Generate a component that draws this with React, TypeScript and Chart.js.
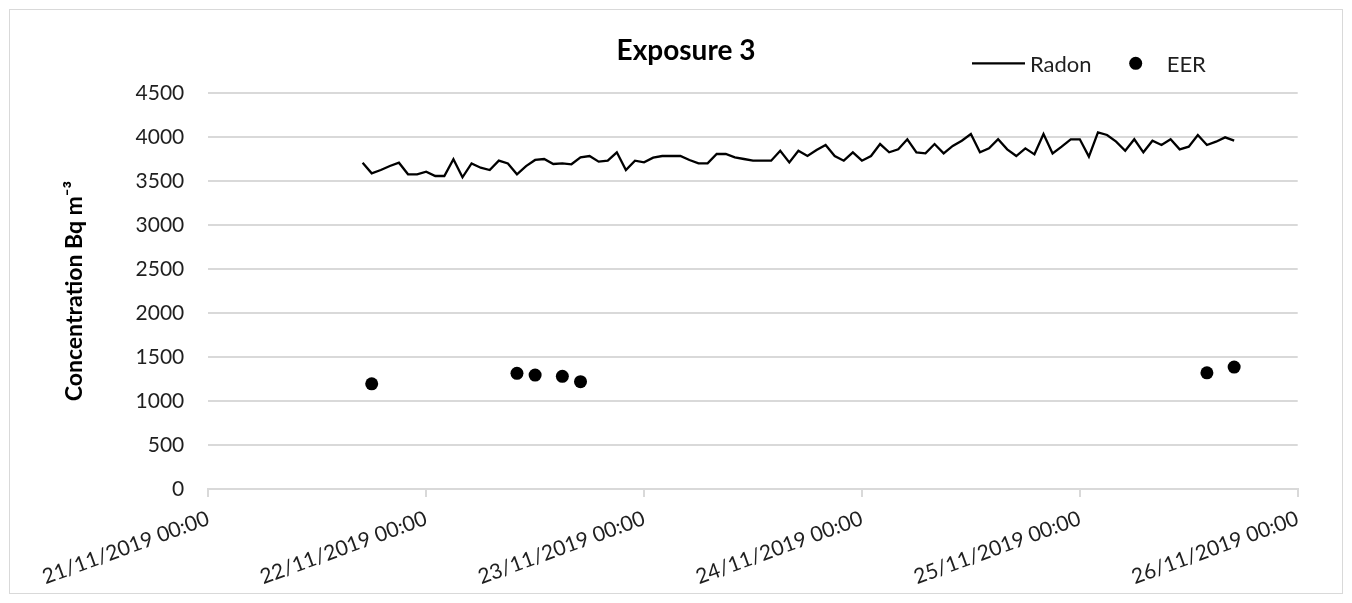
import React, { useEffect, useRef } from 'react';
import { Chart, registerables } from 'chart.js';

Chart.register(...registerables);

const chartTitle = 'Exposure 3';
const yAxisTitle = 'Concentration Bq m⁻³';
const tickLabels = [
  '21/11/2019 00:00',
  '22/11/2019 00:00',
  '23/11/2019 00:00',
  '24/11/2019 00:00',
  '25/11/2019 00:00',
  '26/11/2019 00:00',
];
const seriesNames = ['Radon', 'EER'];

// Radon: hourly readings, first one at 21/11/2019 17:00 (hours counted from 21/11 00:00)
const radonStartHour = 17;
const radonValues = [
  3708, 3587, 3625, 3670, 3708, 3576, 3576, 3606, 3557, 3557, 3747, 3542, 3700,
  3651, 3625, 3731, 3700, 3576, 3670, 3739, 3750, 3693, 3700, 3690, 3769,
  3784, 3720, 3731, 3826, 3625, 3731, 3712, 3765, 3784, 3784, 3784, 3739,
  3700, 3700, 3807, 3807, 3769, 3750, 3731, 3731, 3731, 3844, 3712, 3844,
  3784, 3852, 3909, 3784, 3731, 3826, 3731, 3784, 3920, 3826, 3860, 3974,
  3826, 3814, 3920, 3814, 3898, 3958, 4034, 3826, 3871, 3974, 3860, 3784,
  3871, 3803, 4034, 3814, 3890, 3974, 3974, 3777, 4053, 4023, 3947, 3844,
  3974, 3826, 3958, 3909, 3974, 3860, 3890, 4023, 3909, 3947, 3996, 3958,
];

// EER: isolated measurements (hours from 21/11 00:00)
const eerHours = [18, 34, 36, 39, 41, 110, 113];
const eerValues = [1195, 1315, 1295, 1280, 1220, 1320, 1385];

const FONT = 'Lato, "Open Sans", "DejaVu Sans", sans-serif';
const TEXT = '#1f1f1f';
const GRID = '#d9d9d9';

const overlayPlugin = {
  id: 'overlay',
  beforeDraw(chart: any) {
    const { ctx, width, height } = chart;
    ctx.save();
    ctx.fillStyle = '#ffffff';
    ctx.fillRect(0, 0, width, height);
    ctx.strokeStyle = GRID;
    ctx.lineWidth = 1;
    ctx.strokeRect(1.5, 1.5, width - 3, height - 3);
    ctx.restore();
  },
  afterDraw(chart: any) {
    const { ctx } = chart;
    const ds = chart.data.datasets;
    ctx.save();
    // title
    ctx.fillStyle = '#000';
    ctx.font = `bold 28px ${FONT}`;
    ctx.textAlign = 'center';
    ctx.textBaseline = 'alphabetic';
    ctx.fillText(chartTitle, 678, 52);
    // legend
    ctx.font = `22px ${FONT}`;
    ctx.textAlign = 'left';
    ctx.fillStyle = TEXT;
    ctx.strokeStyle = ds[0].borderColor;
    ctx.lineWidth = ds[0].borderWidth;
    ctx.beginPath();
    ctx.moveTo(964, 55.3);
    ctx.lineTo(1017, 55.3);
    ctx.stroke();
    ctx.fillText(ds[0].label, 1022, 64);
    ctx.fillStyle = ds[1].backgroundColor;
    ctx.beginPath();
    ctx.arc(1127.7, 55.3, ds[1].pointRadius, 0, Math.PI * 2);
    ctx.fill();
    ctx.fillStyle = TEXT;
    ctx.fillText(ds[1].label, 1158.7, 64);
    ctx.restore();
  },
};

export default function App() {
  const ref = useRef<HTMLCanvasElement | null>(null);

  useEffect(() => {
    if (!ref.current) return;
    const radonData = radonValues.map((v, i) => ({ x: radonStartHour + i, y: v }));
    const eerData = eerValues.map((v, i) => ({ x: eerHours[i], y: v }));
    const chart = new Chart(ref.current, {
      type: 'line',
      data: {
        datasets: [
          {
            label: seriesNames[0],
            data: radonData,
            borderColor: '#000000',
            backgroundColor: '#000000',
            borderWidth: 2.3,
            pointRadius: 0,
            tension: 0,
            fill: false,
          },
          {
            label: seriesNames[1],
            data: eerData,
            showLine: false,
            borderColor: '#000000',
            backgroundColor: '#000000',
            pointRadius: 6.5,
            pointBorderWidth: 0,
            pointHoverRadius: 6.5,
          },
        ],
      },
      options: {
        animation: false,
        responsive: false,
        events: [],
        layout: { padding: { left: 51, right: 46.3, top: 85, bottom: 6 } },
        plugins: {
          legend: { display: false },
          title: { display: false },
          tooltip: { enabled: false },
        },
        scales: {
          x: {
            type: 'linear',
            min: 0,
            max: 120,
            grid: {
              drawOnChartArea: false,
              drawTicks: true,
              tickLength: 8,
              color: GRID,
              lineWidth: 2,
            },
            border: { display: true, color: GRID, width: 2 },
            ticks: {
              stepSize: 24,
              autoSkip: false,
              minRotation: 20,
              maxRotation: 20,
              padding: 9,
              color: TEXT,
              font: { family: FONT, size: 21 },
              callback: (value: any) => {
                const idx = Math.round(Number(value) / 24);
                return tickLabels[idx] ?? '';
              },
            },
            afterFit: (s: any) => {
              s.height = 100;
            },
          },
          y: {
            type: 'linear',
            min: 0,
            max: 4500,
            grid: { color: GRID, lineWidth: 2, drawTicks: false },
            border: { display: false },
            ticks: {
              stepSize: 500,
              padding: 24,
              color: TEXT,
              font: { family: FONT, size: 21 },
              callback: (value: any) => String(value),
            },
            title: {
              display: true,
              text: yAxisTitle,
              color: '#000',
              font: { family: FONT, size: 23, weight: 'bold' },
              padding: { top: 2, bottom: 0 },
            },
            afterFit: (s: any) => {
              s.width = 149.3;
            },
          },
        },
      },
      plugins: [overlayPlugin],
    } as any);
    return () => chart.destroy();
  }, []);

  return (
    <div style={{ width: 1336, height: 587 }}>
      <canvas ref={ref} width={1336} height={587} style={{ display: 'block' }} />
    </div>
  );
}
